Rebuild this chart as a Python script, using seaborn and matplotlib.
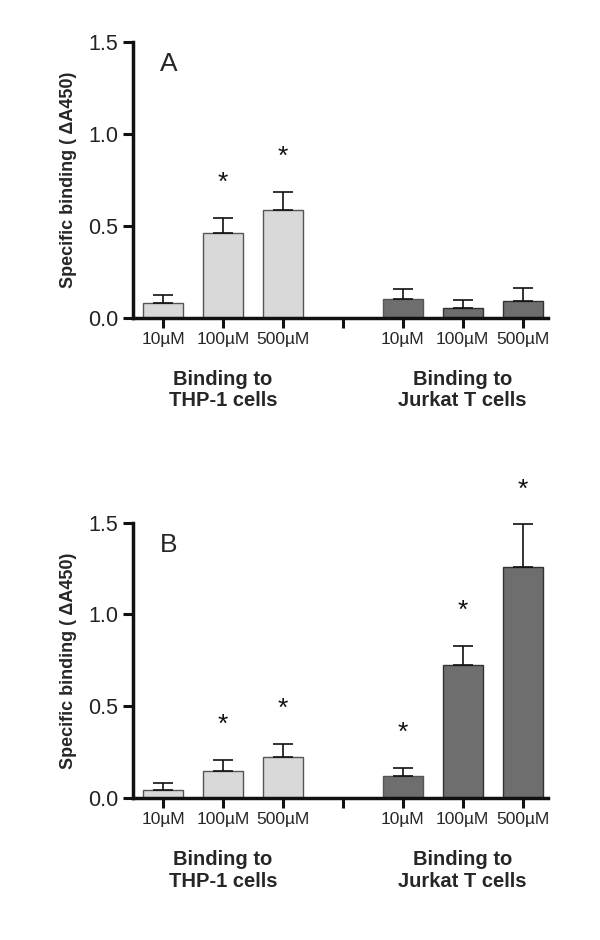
import numpy as np
import pandas as pd
import matplotlib
matplotlib.use("Agg")
import matplotlib.pyplot as plt
import seaborn as sns

doses = ["10µM", "100µM", "500µM"]
cells = ["THP-1", "Jurkat"]
group_labels = ["Binding to\nTHP-1 cells", "Binding to\nJurkat T cells"]

mean_a = [0.082, 0.46, 0.585, 0.101, 0.051, 0.091]
sem_a = [0.040, 0.083, 0.100, 0.058, 0.045, 0.072]
star_a = [False, True, True, False, False, False]

mean_b = [0.042, 0.149, 0.222, 0.119, 0.722, 1.256]
sem_b = [0.041, 0.059, 0.072, 0.046, 0.105, 0.234]
star_b = [False, True, True, True, True, True]

light = "#d9d9d9"
dark = "#6e6e6e"

sns.set_style("ticks")
plt.rcParams["font.family"] = ["Liberation Sans", "DejaVu Sans"]

keys = [c + " " + d for c in cells for d in doses]
order = keys[:3] + ["gap"] + keys[3:]
palette = {k: (light if k.startswith("THP") else dark) for k in keys}
palette["gap"] = "white"

fig = plt.figure(figsize=(6, 9.4), dpi=100)
ax_a = fig.add_axes([0.222, 0.662, 0.691, 0.293])
ax_b = fig.add_axes([0.222, 0.151, 0.691, 0.293])


def draw_panel(ax, means, sems, stars, letter):
    df = pd.DataFrame({"key": keys, "value": means})
    sns.barplot(
        data=df, x="key", y="value", order=order, hue="key",
        hue_order=order, palette=palette, legend=False,
        width=0.67, errorbar=None, ax=ax,
    )
    for p, k in zip(ax.patches, order):
        if k.startswith("Jurkat"):
            p.set_edgecolor("#333333")
        else:
            p.set_edgecolor("#555555")
        p.set_linewidth(1.0)
    pos = [order.index(k) for k in keys]
    ax.errorbar(pos, means, yerr=[np.zeros(len(sems)), sems], fmt="none",
                ecolor="#111111", elinewidth=1.2, capsize=7, capthick=1.2)
    for x, m, s, st in zip(pos, means, sems, stars):
        if st:
            ax.text(x, m + s + 0.19, "*", ha="center", va="center",
                    fontsize=19, color="#111111")
    ax.set_xlim(-0.5, 6.42)
    ax.set_ylim(0, 1.5)
    ax.set_yticks([0, 0.5, 1.0, 1.5])
    ax.set_yticklabels(["0.0", "0.5", "1.0", "1.5"], fontsize=15.5,
                       color="#222222")
    ax.set_xticks(range(7))
    ax.set_xticklabels(doses + [""] + doses, fontsize=12.5)
    ax.tick_params(axis="both", width=2.2, length=7, color="#111111")
    ax.tick_params(axis="x", pad=3)
    ax.set_xlabel("")
    ax.set_ylabel("Specific binding ( ΔA450)", fontsize=13,
                  fontweight="bold", labelpad=8)
    for s in ["left", "bottom"]:
        ax.spines[s].set_linewidth(2.5)
        ax.spines[s].set_color("#111111")
    sns.despine(ax=ax)
    ax.text(0.065, 0.92, letter, transform=ax.transAxes, fontsize=19,
            ha="left", va="center")
    for x, g in zip([1, 5], group_labels):
        ax.text(x, -0.19, g, transform=ax.get_xaxis_transform(),
                ha="center", va="top", fontsize=14.5, fontweight="bold",
                linespacing=1.15)


draw_panel(ax_a, mean_a, sem_a, star_a, "A")
draw_panel(ax_b, mean_b, sem_b, star_b, "B")

fig.savefig("out.png", dpi=100)
